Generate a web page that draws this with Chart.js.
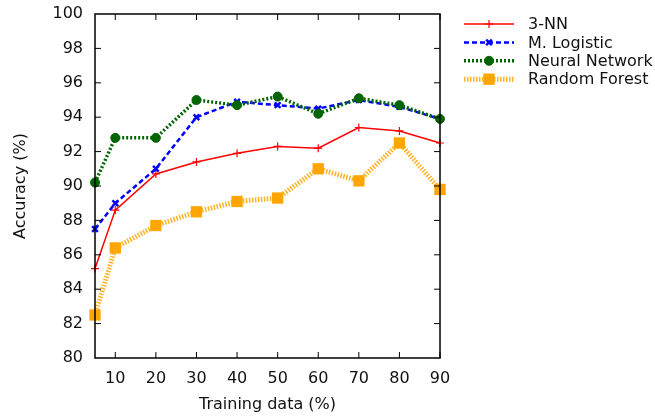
<!DOCTYPE html>
<html>
<head>
<meta charset="utf-8">
<script src="https://cdn.jsdelivr.net/npm/chart.js@4/dist/chart.umd.min.js"></script>
<style>
  html, body { margin: 0; padding: 0; background: #fff; }
  #wrap { width: 655px; height: 417px; }
</style>
</head>
<body>
<div id="wrap"><canvas id="myChart"></canvas></div>
<script>
// training set size (%) on the x axis
const trainingPct = [5, 10, 20, 30, 40, 50, 60, 70, 80, 90];
const xTicks = [10, 20, 30, 40, 50, 60, 70, 80, 90];

// accuracy (%) per method
const knnAcc      = [85.2, 88.6, 90.7, 91.4, 91.9, 92.3, 92.2, 93.4, 93.2, 92.5];
const logisticAcc = [87.5, 89.0, 91.0, 94.0, 94.9, 94.7, 94.5, 95.0, 94.6, 93.9];
const neuralAcc   = [90.2, 92.8, 92.8, 95.0, 94.7, 95.2, 94.2, 95.1, 94.7, 93.9];
const forestAcc   = [82.5, 86.4, 87.7, 88.5, 89.1, 89.3, 91.0, 90.3, 92.5, 89.8];

const FONT = 'DejaVu Sans';
const TEXT_COLOR = '#111';

function toPoints(values) {
    return trainingPct.map((x, i) => ({ x: x, y: values[i] }));
}

const data = {
    datasets: [
        {
            label: '3-NN',
            data: toPoints(knnAcc),
            borderColor: '#ff0000',
            backgroundColor: '#ff0000',
            borderWidth: 1.5,
            pointStyle: 'cross',
            pointRadius: 4,
            pointBorderWidth: 1.2,
            order: 4,
        },
        {
            label: 'M. Logistic',
            data: toPoints(logisticAcc),
            borderColor: '#0000ff',
            backgroundColor: '#0000ff',
            borderWidth: 2.5,
            borderDash: [5, 3],
            pointStyle: 'crossRot',
            pointRadius: 4,
            pointBorderWidth: 2.5,
            order: 3,
        },
        {
            label: 'Neural Network',
            data: toPoints(neuralAcc),
            borderColor: '#006400',
            backgroundColor: '#006400',
            borderWidth: 3.5,
            borderDash: [2, 2],
            pointStyle: 'circle',
            pointRadius: 4.5,
            pointBorderWidth: 1,
            order: 2,
        },
        {
            label: 'Random Forest',
            data: toPoints(forestAcc),
            borderColor: 'rgba(255,165,0,0.85)',
            backgroundColor: '#ffa500',
            borderWidth: 5,
            borderDash: [1.5, 1.5],
            pointStyle: 'rect',
            pointRadius: 8,
            pointBorderWidth: 0,
            pointBorderColor: '#ffa500',
            order: 1,
        },
    ]
};

// frame with inward ticks on all four sides (gnuplot style)
const framePlugin = {
    id: 'frame',
    afterDraw(chart) {
        const { ctx, chartArea: a, scales } = chart;
        const tick = 6;
        ctx.save();
        ctx.strokeStyle = '#000';
        ctx.lineWidth = 1.5;
        ctx.setLineDash([]);
        ctx.strokeRect(a.left, a.top, a.right - a.left, a.bottom - a.top);
        ctx.lineWidth = 1;
        ctx.beginPath();
        xTicks.forEach(v => {
            const px = scales.x.getPixelForValue(v);
            ctx.moveTo(px, a.bottom); ctx.lineTo(px, a.bottom - tick);
            ctx.moveTo(px, a.top); ctx.lineTo(px, a.top + tick);
        });
        for (let v = 82; v < 100; v += 2) {
            const py = scales.y.getPixelForValue(v);
            ctx.moveTo(a.left, py); ctx.lineTo(a.left + tick, py);
            ctx.moveTo(a.right, py); ctx.lineTo(a.right - tick, py);
        }
        ctx.stroke();
        ctx.restore();
    }
};

// legend to the right: line sample with marker in the middle
const keyPlugin = {
    id: 'key',
    afterDraw(chart) {
        const ctx = chart.ctx;
        const x0 = 464, x1 = 514, textX = 528;
        const rows = [24, 42.4, 60.8, 79.2];
        ctx.save();
        chart.data.datasets.forEach((ds, i) => {
            const y = rows[i];
            ctx.strokeStyle = ds.borderColor;
            ctx.lineWidth = ds.borderWidth;
            ctx.setLineDash(ds.borderDash || []);
            ctx.beginPath();
            ctx.moveTo(x0, y);
            ctx.lineTo(x1, y);
            ctx.stroke();
            ctx.setLineDash([]);
            ctx.fillStyle = ds.backgroundColor;
            ctx.strokeStyle = ds.pointBorderColor || ds.borderColor;
            ctx.lineWidth = ds.pointBorderWidth;
            Chart.helpers.drawPoint(ctx, {
                pointStyle: ds.pointStyle,
                radius: ds.pointRadius,
                rotation: 0,
                borderWidth: ds.pointBorderWidth,
            }, (x0 + x1) / 2, y);
            ctx.fillStyle = TEXT_COLOR;
            ctx.font = '16px "' + FONT + '"';
            ctx.textBaseline = 'middle';
            ctx.textAlign = 'left';
            ctx.fillText(ds.label, textX, y + 1);
        });
        ctx.restore();
    }
};

const config = {
    type: 'line',
    data: data,
    options: {
        responsive: true,
        maintainAspectRatio: false,
        animation: false,
        clip: false,
        layout: {
            padding: { top: 14, right: 215, left: 0, bottom: 0 }
        },
        plugins: {
            legend: { display: false },
            tooltip: { enabled: false },
        },
        scales: {
            x: {
                type: 'linear',
                min: 5,
                max: 90,
                grid: { display: false, drawTicks: false },
                border: { display: false },
                afterBuildTicks(scale) {
                    scale.ticks = xTicks.map(v => ({ value: v }));
                },
                afterFit(scale) {
                    scale.height = 59;
                    scale.paddingLeft = 0;
                    scale.paddingRight = 0;
                },
                ticks: {
                    padding: 11,
                    color: TEXT_COLOR,
                    font: { family: FONT, size: 16 },
                },
                title: {
                    display: true,
                    text: 'Training data (%)',
                    color: TEXT_COLOR,
                    font: { family: FONT, size: 16 },
                    padding: { top: 0, bottom: 3 },
                },
            },
            y: {
                type: 'linear',
                min: 80,
                max: 100,
                grid: { display: false, drawTicks: false },
                border: { display: false },
                afterFit(scale) {
                    scale.width = 95;
                    scale.paddingTop = 0;
                    scale.paddingBottom = 0;
                },
                ticks: {
                    stepSize: 2,
                    padding: 12,
                    color: TEXT_COLOR,
                    font: { family: FONT, size: 16 },
                },
                title: {
                    display: true,
                    text: 'Accuracy (%)',
                    color: TEXT_COLOR,
                    font: { family: FONT, size: 16 },
                    padding: { top: 11, bottom: 0 },
                },
            },
        },
    },
    plugins: [framePlugin, keyPlugin],
};

const myChart = new Chart(document.getElementById('myChart'), config);
</script>
</body>
</html>
